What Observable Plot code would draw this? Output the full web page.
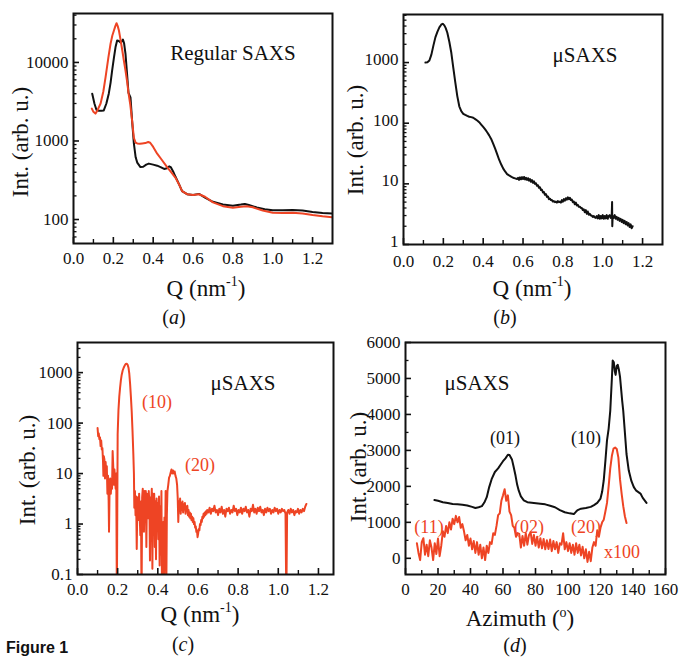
<!DOCTYPE html>
<html>
<head>
<meta charset="utf-8">
<script src="https://cdn.jsdelivr.net/npm/d3@7"></script>
<script src="https://cdn.jsdelivr.net/npm/@observablehq/plot@0.6"></script>
<style>
  html, body { margin: 0; padding: 0; background: #fff; }
  #root { position: relative; width: 680px; height: 657px; overflow: hidden; background: #fff;
          font-family: "Liberation Serif", Tinos, "Times New Roman", Times, "DejaVu Serif", "Noto Serif", serif; color: #111; }
  .panel { position: absolute; }
  .t { position: absolute; white-space: nowrap; transform: translate(-50%, -50%); line-height: 1; }
  .ytitle { transform: translate(-50%, -50%) rotate(-90deg); font-size: 23px; }
  .xtitle { font-size: 23px; }
  .cap { font-size: 20px; }
  .ann { font-size: 21px; }
  .lbl { font-size: 18px; }
  .red { color: #ee4424; }
  .sup { font-size: 14px; position: relative; top: -10px; }
</style>
</head>
<body>
<div id="root">
  <div class="panel" id="pa" style="left:0;top:0"></div>
  <div class="panel" id="pb" style="left:340px;top:0"></div>
  <div class="panel" id="pc" style="left:0;top:330px"></div>
  <div class="panel" id="pd" style="left:340px;top:330px"></div>

  <!-- panel (a) texts -->
  <div class="t ytitle" style="left:20px;top:142px">Int. (arb. u.)</div>
  <div class="t xtitle" style="left:206px;top:288px">Q (nm<span class="sup">-1</span>)</div>
  <div class="t cap" style="left:174px;top:317px">(<i>a</i>)</div>
  <div class="t ann" style="left:233px;top:53px">Regular SAXS</div>

  <!-- panel (b) texts -->
  <div class="t ytitle" style="left:355px;top:140px">Int. (arb. u.)</div>
  <div class="t xtitle" style="left:532px;top:288px">Q (nm<span class="sup">-1</span>)</div>
  <div class="t cap" style="left:505px;top:317px">(<i>b</i>)</div>
  <div class="t ann" style="left:585px;top:55px">μSAXS</div>

  <!-- panel (c) texts -->
  <div class="t ytitle" style="left:27px;top:470px">Int. (arb. u.)</div>
  <div class="t xtitle" style="left:200px;top:614px">Q (nm<span class="sup">-1</span>)</div>
  <div class="t cap" style="left:183px;top:644px">(<i>c</i>)</div>
  <div class="t ann" style="left:243px;top:383px">μSAXS</div>
  <div class="t lbl red" style="left:157px;top:402px">(10)</div>
  <div class="t lbl red" style="left:200px;top:465px">(20)</div>

  <!-- panel (d) texts -->
  <div class="t ytitle" style="left:358px;top:467px">Int. (arb. u.)</div>
  <div class="t xtitle" style="left:520px;top:618px">Azimuth (<span class="sup" style="top:-9px">o</span>)</div>
  <div class="t cap" style="left:515px;top:645px">(<i>d</i>)</div>
  <div class="t ann" style="left:477px;top:383px">μSAXS</div>
  <div class="t lbl" style="left:505px;top:438px">(01)</div>
  <div class="t lbl" style="left:586px;top:438px">(10)</div>
  <div class="t lbl red" style="left:429px;top:527px">(11)</div>
  <div class="t lbl red" style="left:529px;top:527px">(02)</div>
  <div class="t lbl red" style="left:586px;top:527px">(20)</div>
  <div class="t lbl red" style="left:622px;top:552px">x100</div>

  <div style="position:absolute;left:6px;top:640px;font:bold 16px 'Liberation Sans', Arimo, Arial, sans-serif;color:#111;line-height:1">Figure 1</div>
</div>

<script>
const INK = "#111";
const RED = "#ee4424";

// ---------- Panel (a): Regular SAXS, Q vs intensity (log) ----------
const aBlack = [
  [0.094,4000],[0.105,3000],[0.115,2500],[0.127,2420],[0.14,2420],[0.152,2450],[0.165,3000],[0.177,4000],
  [0.186,5500],[0.194,7900],[0.203,11500],[0.211,15700],[0.219,19000],[0.228,18800],[0.236,18000],[0.242,18500],
  [0.248,19600],[0.254,17500],[0.261,12900],[0.27,6500],[0.276,4100],[0.286,3600],[0.294,1830],[0.303,930],
  [0.312,620],[0.32,530],[0.336,465],[0.35,470],[0.365,500],[0.378,515],[0.40,500],[0.42,485],[0.437,465],
  [0.455,440],[0.47,450],[0.48,475],[0.488,465],[0.50,410],[0.512,350],[0.53,280],[0.545,230],[0.57,210],
  [0.60,205],[0.63,212],[0.66,190],[0.70,168],[0.75,155],[0.80,150],[0.84,155],[0.86,158],[0.88,153],
  [0.92,142],[0.96,135],[1.00,131],[1.05,131],[1.10,132],[1.15,130],[1.20,125],[1.25,121],[1.30,119]
];
const aRed = [
  [0.092,2580],[0.10,2350],[0.11,2230],[0.12,2450],[0.136,3000],[0.15,4300],[0.161,6500],[0.175,11500],
  [0.186,17300],[0.195,22000],[0.203,25500],[0.21,29000],[0.216,31600],[0.222,29000],[0.228,25500],
  [0.236,19500],[0.245,14200],[0.253,10500],[0.261,7900],[0.27,5500],[0.276,4100],[0.285,2900],[0.294,1830],
  [0.303,1100],[0.312,950],[0.32,930],[0.333,920],[0.345,930],[0.36,940],[0.375,970],[0.385,950],[0.40,840],
  [0.42,690],[0.44,590],[0.47,465],[0.49,400],[0.512,340],[0.53,280],[0.545,230],[0.57,210],[0.60,205],
  [0.63,210],[0.66,195],[0.70,165],[0.75,148],[0.80,141],[0.84,145],[0.87,148],[0.90,143],[0.95,130],
  [1.00,122],[1.05,121],[1.10,122],[1.15,119],[1.20,114],[1.25,110],[1.30,107]
];

// ---------- Panel (b): muSAXS, Q vs intensity (log) ----------
const bBlack = [
  [0.11,1000],[0.12,1010],[0.13,1080],[0.14,1350],[0.15,1900],[0.16,2600],[0.17,3200],[0.18,3800],[0.19,4250],
  [0.197,4350],[0.205,4100],[0.212,3700],[0.22,3100],[0.23,2200],[0.24,1450],[0.25,820],[0.26,470],[0.27,280],
  [0.28,190],[0.29,158],[0.30,143],[0.31,137],[0.32,132],[0.33,128],[0.34,126],[0.35,123],[0.36,117],[0.37,111],
  [0.38,104],[0.39,95],[0.40,87],[0.41,79],[0.42,71],[0.43,63],[0.44,55],[0.45,46],[0.46,38],[0.47,31],[0.48,25],
  [0.49,21],[0.50,18],[0.51,16],[0.52,14.5],[0.53,13.8],[0.54,13.2],[0.55,12.6],[0.56,12.3],[0.57,12.0],
  [0.575,12.6],[0.58,11.6],[0.585,12.8],[0.59,11.9],[0.595,12.9],[0.60,12.0],[0.605,13.0],[0.61,11.8],
  [0.615,12.6],[0.62,11.6],[0.625,12.4],[0.63,11.3],[0.635,12.0],[0.64,10.8],[0.645,11.5],[0.65,10.4],
  [0.655,11.0],[0.66,10.0],[0.665,10.2],[0.67,9.3],[0.675,9.5],[0.68,8.6],[0.685,8.8],[0.69,7.9],[0.695,8.0],
  [0.70,7.2],[0.705,7.3],[0.71,6.6],[0.715,6.8],[0.72,6.1],[0.725,6.2],[0.73,5.6],[0.735,5.7],[0.74,5.4],
  [0.745,5.4],[0.75,5.1],[0.755,5.2],[0.76,5.0],[0.765,5.1],[0.77,4.9],[0.775,5.2],[0.78,5.0],[0.785,5.1],
  [0.79,4.9],[0.795,5.4],[0.80,5.1],[0.805,5.6],[0.81,5.3],[0.815,5.8],[0.82,5.5],[0.825,6.0],[0.83,5.6],
  [0.835,5.9],[0.84,5.4],[0.845,5.5],[0.85,5.0],[0.855,5.1],[0.86,4.6],[0.865,4.9],[0.87,4.4],[0.875,4.5],
  [0.88,4.2],[0.885,4.2],[0.89,4.0],[0.895,4.0],[0.90,3.7],[0.905,3.8],[0.91,3.4],[0.915,3.7],[0.92,3.2],
  [0.925,3.5],[0.93,3.1],[0.935,3.2],[0.94,3.0],[0.945,3.0],[0.95,2.85],[0.955,2.95],[0.96,2.8],[0.965,2.75],
  [0.97,2.95],[0.975,2.7],[0.98,3.05],[0.985,2.65],[0.99,2.95],[0.995,2.7],[1.00,3.05],[1.005,2.65],[1.01,2.95],
  [1.015,2.7],[1.02,3.05],[1.025,2.65],[1.03,2.95],[1.035,3.05],[1.04,2.75],[1.045,2.95],[1.047,5.0],[1.048,2.0],
  [1.05,2.95],[1.055,2.75],[1.06,3.05],[1.065,2.65],[1.07,2.85],[1.075,2.55],[1.08,2.75],[1.085,2.45],[1.09,2.65],
  [1.095,2.35],[1.10,2.55],[1.105,2.25],[1.11,2.45],[1.115,2.15],[1.12,2.35],[1.125,2.05],[1.13,2.25],[1.135,1.95],
  [1.14,2.15],[1.145,1.85],[1.15,2.0]
];

// ---------- Panel (c): muSAXS (background subtracted), log ----------
const cRed = [
  [0.100,80],[0.103,55],[0.106,62],[0.109,48],[0.112,52],[0.115,35],[0.118,45],[0.121,30],[0.124,32],[0.127,18],
  [0.129,9],[0.131,22],[0.134,19],[0.137,8],[0.14,17],[0.143,10],[0.146,14],[0.149,4],[0.152,9],[0.155,3],
  [0.157,0.7],[0.16,6],[0.163,8],[0.166,4],[0.169,7],[0.172,5],[0.175,28],[0.178,14],[0.181,6],[0.184,12],
  [0.187,8],[0.19,5],[0.193,10],[0.196,0.03],[0.2,60],[0.204,180],[0.208,330],[0.212,500],[0.216,700],
  [0.22,900],[0.225,1100],[0.23,1250],[0.235,1380],[0.24,1480],[0.245,1500],[0.25,1420],[0.254,1250],
  [0.258,950],[0.262,600],[0.266,330],[0.27,170],[0.274,70],[0.278,25],[0.281,10],[0.283,2.1],[0.286,4.5],
  [0.289,1.5],[0.292,3.5],[0.295,0.32],[0.298,2.5],[0.301,3.4],[0.304,1.2],[0.307,4],[0.31,1.35],[0.313,0.6],
  [0.316,2.8],[0.319,0.03],[0.322,3.4],[0.325,5],[0.328,2],[0.331,0.7],[0.334,4.5],[0.337,1.5],[0.34,4.5],
  [0.343,0.35],[0.346,4],[0.349,2],[0.352,1.3],[0.355,4.5],[0.358,2.5],[0.361,0.19],[0.364,3.4],[0.367,2.5],
  [0.37,5],[0.373,0.13],[0.376,4],[0.379,1.9],[0.382,4],[0.385,0.35],[0.388,2.8],[0.391,0.2],[0.394,3.2],
  [0.397,1.2],[0.4,2.6],[0.403,0.5],[0.406,3.5],[0.409,0.15],[0.412,2.2],[0.415,0.25],[0.418,4.5],[0.421,0.03],
  [0.424,0.22],[0.427,1.1],[0.43,0.03],[0.433,1.35],[0.436,0.4],[0.439,4.5],[0.442,0.03],[0.445,1.5],[0.448,4.5],
  [0.452,6],[0.456,8.3],[0.46,9],[0.464,10.5],[0.468,12],[0.472,10],[0.476,11.5],[0.48,10],[0.484,11],[0.488,9],
  [0.492,8],[0.496,6],[0.499,3.4],[0.502,1.1],[0.505,2.8],[0.508,2.0],[0.511,3.2],[0.514,1.6],[0.517,2.6],
  [0.52,1.9],[0.523,2.8],[0.526,1.7],[0.529,2.4],[0.532,2.0],[0.535,2.6],[0.538,1.6],[0.541,2.2],[0.544,1.8],
  [0.547,2.3],[0.55,1.5],[0.553,1.9],[0.556,1.4],[0.559,1.7],[0.562,1.3],[0.565,1.6],[0.568,1.2],[0.571,1.4],
  [0.574,1.1],[0.577,1.3],[0.58,1.0],[0.583,1.1],[0.586,0.85],[0.589,0.9],[0.592,0.7],[0.595,0.75],[0.598,0.55],
  [0.601,0.65],[0.604,0.8],[0.607,0.75],[0.61,1.0],[0.613,0.95],[0.616,1.2],[0.619,1.1],[0.622,1.4],[0.625,1.3],
  [0.628,1.6],[0.631,1.4],[0.634,1.7],[0.637,1.5],[0.64,1.8],[0.643,1.6],[0.646,1.9],
  [0.652,1.7],[0.658,2.1],[0.664,1.6],[0.670,2.0],[0.676,1.8],[0.682,2.3],[0.688,1.7],[0.694,1.9],[0.700,1.5],
  [0.706,2.0],[0.712,1.7],[0.718,2.2],[0.724,1.6],[0.730,1.9],[0.736,1.4],[0.742,2.0],[0.748,1.8],[0.754,2.1],
  [0.760,1.6],[0.766,1.9],[0.772,1.7],[0.778,2.3],[0.784,1.8],[0.790,2.0],[0.796,1.5],[0.802,1.9],[0.808,1.7],
  [0.814,2.1],[0.820,1.6],[0.826,2.0],[0.832,1.8],[0.838,2.2],[0.844,1.7],[0.850,1.9],[0.856,1.4],[0.862,2.0],
  [0.868,1.8],[0.874,2.4],[0.880,1.7],[0.886,2.0],[0.892,1.6],[0.898,2.1],[0.904,1.8],[0.910,2.2],[0.916,1.7],
  [0.922,1.9],[0.928,1.5],[0.934,2.0],[0.940,1.7],[0.946,2.1],[0.952,1.8],[0.958,2.0],[0.964,1.6],[0.970,1.9],
  [0.976,1.7],[0.982,2.1],[0.988,1.8],[0.994,2.0],[1.000,1.6],[1.006,1.9],[1.012,1.7],[1.018,2.0],[1.024,1.8],
  [1.030,1.9],[1.036,1.6],[1.040,0.03],[1.044,1.7],[1.050,1.9],[1.056,1.6],[1.062,2.0],[1.068,1.7],[1.074,1.9],
  [1.080,1.5],[1.086,1.8],[1.092,1.7],[1.098,2.0],[1.104,1.6],[1.110,1.9],[1.116,1.7],[1.122,2.0],[1.128,1.8],
  [1.134,2.2],[1.140,2.5]
];

// ---------- Panel (d): azimuthal profiles ----------
const dBlack = [
  [17.8,1620],[20,1600],[23,1560],[26,1540],[29,1510],[32,1500],[35,1490],[38,1470],[41,1430],[43,1400],
  [45,1420],[47,1450],[48.5,1550],[50,1700],[51.5,1980],[53,2200],[55,2400],[57,2500],[58.5,2600],[60,2700],
  [61.5,2780],[63,2880],[64,2870],[65.5,2750],[66.5,2550],[67.7,2300],[68.7,2050],[69.7,1880],[71,1720],
  [72.8,1610],[75,1560],[79,1540],[83,1520],[86,1500],[89,1460],[92,1420],[95,1340],[98,1280],[101,1250],
  [103.6,1230],[105,1300],[106,1340],[108,1380],[111,1400],[114,1430],[116,1480],[118,1540],[120,1660],
  [121,1850],[122,2170],[123,2700],[124,3280],[125,3600],[126,4100],[127,5000],[127.5,5500],[128.2,5450],
  [128.8,5200],[129.3,5100],[130,5350],[130.6,5380],[131.3,5250],[132,5050],[132.5,4800],[133.3,4400],
  [134,4100],[135,3500],[136,2900],[137.4,2440],[139,2150],[140.5,1980],[142,1880],[144.6,1800],[146,1680],
  [148.3,1540]
];
const dRed = [
  [7,420],[8,150],[9,-50],[10,450],[11,560],[12,100],[13,380],[14,60],[15,500],[16,300],[17,-50],[18,420],
  [19,120],[20,550],[21,60],[22,350],[23,750],[24,600],[25,900],[26,700],[27,1000],[28,800],[29,1100],[30,950],
  [31,1180],[32,1000],[33,1150],[34,850],[35,950],[36,750],[37,500],[38,650],[39,350],[40,550],[41,250],
  [42,480],[43,150],[44,450],[45,100],[46,380],[47,0],[48,300],[49,-50],[50,350],[51,150],[52,450],[53,400],
  [54,700],[55,650],[56,900],[57,1200],[58,1250],[59,1600],[60,1750],[61,1920],[62,1600],[63,1750],[64,1300],
  [65,1200],[66,900],[67,850],[68,600],[69,700],[70,680],[71,300],[72,620],[73,350],[74,700],[75,380],[76,650],
  [77,720],[78,400],[79,650],[80,350],[81,600],[82,300],[83,560],[84,280],[85,540],[86,250],[87,500],[88,260],
  [89,520],[90,200],[91,480],[92,250],[93,450],[94,150],[95,420],[96,380],[97,700],[98,250],[99,450],[100,200],
  [101,420],[102,150],[103,380],[104,100],[105,420],[106,150],[107,380],[108,80],[109,320],[110,0],[111,250],
  [112,-100],[113,180],[114,-80],[115,300],[116,450],[117,350],[118,780],[119,600],[120,850],[121,1000],
  [122,1075],[123,1300],[124,1540],[125,2000],[126,2500],[127,2850],[128,3050],[129,3080],[130,3040],
  [131,2800],[132,2200],[133,1800],[134,1450],[135,1170],[136,980]
];

// ---------- tick values ----------
const qMajor = [0, 0.2, 0.4, 0.6, 0.8, 1.0, 1.2];
const qMinor = [0.1, 0.3, 0.5, 0.7, 0.9, 1.1];
const aYMajor = [100, 1000, 10000];
const bYMajor = [1, 10, 100, 1000];
const cYMajor = [0.1, 1, 10, 100, 1000];
const mult = [2, 3, 4, 5, 6, 7, 8, 9];
const logMinor = (decades, lo, hi) => decades.flatMap(d => mult.map(m => m * d)).filter(v => v > lo && v < hi);
const aYMinor = logMinor([10, 100, 1000, 10000], 50, 42000);
const bYMinor = logMinor([1, 10, 100, 1000], 1, 6200);
const cYMinor = logMinor([0.1, 1, 10, 100, 1000], 0.1, 3950);
const dXMajor = [0, 20, 40, 60, 80, 100, 120, 140, 160];
const dXMinor = [10, 30, 50, 70, 90, 110, 130, 150];
const dYMajor = [0, 1000, 2000, 3000, 4000, 5000, 6000];
const dYMinor = [500, 1500, 2500, 3500, 4500, 5500];

const fmt1 = d3.format(".1f");
const fmtInt = d3.format("d");
const fmtLog = d => (d < 1 ? String(d) : d3.format("d")(d));

const FONT = "'Liberation Serif', Tinos, 'Times New Roman', Times, 'DejaVu Serif', 'Noto Serif', serif";

function frameMarks(cfg) {
  const iw = cfg.width - cfg.ml - cfg.mr;
  const ih = cfg.height - cfg.mt - cfg.mb;
  return [
    Plot.ruleX(cfg.xMinor, {x: d => d, insetTop: ih - 4, stroke: INK, strokeWidth: 1.4}),
    Plot.ruleX(cfg.xMajor, {x: d => d, insetTop: ih - 6, stroke: INK, strokeWidth: 1.6}),
    Plot.ruleY(cfg.yMinor, {y: d => d, insetRight: iw - 3.5, stroke: INK, strokeWidth: 1.3}),
    Plot.ruleY(cfg.yMajor, {y: d => d, insetRight: iw - 6, stroke: INK, strokeWidth: 1.6}),
    Plot.axisX(cfg.xMajor, {tickSize: 0, tickPadding: cfg.xPad ?? 8, tickFormat: cfg.xFmt, label: null, fontSize: 17}),
    Plot.axisY(cfg.yMajor, {tickSize: 0, tickPadding: 5, tickFormat: cfg.yFmt, label: null, fontSize: 17, dy: cfg.yDy ?? 0}),
    Plot.frame({stroke: INK, strokeWidth: 2})
  ];
}

function panel(cfg, lines) {
  return Plot.plot({
    width: cfg.width, height: cfg.height,
    marginLeft: cfg.ml, marginRight: cfg.mr, marginTop: cfg.mt, marginBottom: cfg.mb,
    style: {fontFamily: FONT, fontSize: "17px", color: INK, background: "transparent"},
    x: {domain: cfg.xDomain},
    y: {type: cfg.yType, domain: cfg.yDomain},
    marks: [
      ...lines.map(l => Plot.line(l.data, {x: d => d[0], y: d => d[1], stroke: l.color, strokeWidth: 2, clip: true})),
      ...frameMarks(cfg)
    ]
  });
}

document.getElementById("pa").append(panel(
  {width: 340, height: 330, ml: 73, mr: 8, mt: 13, mb: 87, xDomain: [0, 1.3], yType: "log", yDomain: [49.5, 42000],
   xMajor: qMajor, xMinor: qMinor, yMajor: aYMajor, yMinor: aYMinor, xFmt: fmt1, yFmt: fmtInt},
  [{data: aBlack, color: INK}, {data: aRed, color: RED}]
));
document.getElementById("pb").append(panel(
  {width: 340, height: 330, ml: 63, mr: 18, mt: 14, mb: 86, xDomain: [0, 1.3], yType: "log", yDomain: [1, 6200],
   xMajor: qMajor, xMinor: qMinor, yMajor: bYMajor, yMinor: bYMinor, xFmt: fmt1, yFmt: fmtInt, xPad: 10, yDy: -3},
  [{data: bBlack, color: INK}]
));
document.getElementById("pc").append(panel(
  {width: 340, height: 327, ml: 77, mr: 7, mt: 12, mb: 83, xDomain: [0, 1.275], yType: "log", yDomain: [0.1, 3950],
   xMajor: qMajor, xMinor: qMinor, yMajor: cYMajor, yMinor: cYMinor, xFmt: fmt1, yFmt: fmtLog},
  [{data: cRed, color: RED}]
));
document.getElementById("pd").append(panel(
  {width: 340, height: 327, ml: 65, mr: 15, mt: 12, mb: 83, xDomain: [0, 160], yType: "linear", yDomain: [-450, 6000],
   xMajor: dXMajor, xMinor: dXMinor, yMajor: dYMajor, yMinor: dYMinor, xFmt: fmtInt, yFmt: fmtInt},
  [{data: dBlack, color: INK}, {data: dRed, color: RED}]
));
</script>
</body>
</html>
